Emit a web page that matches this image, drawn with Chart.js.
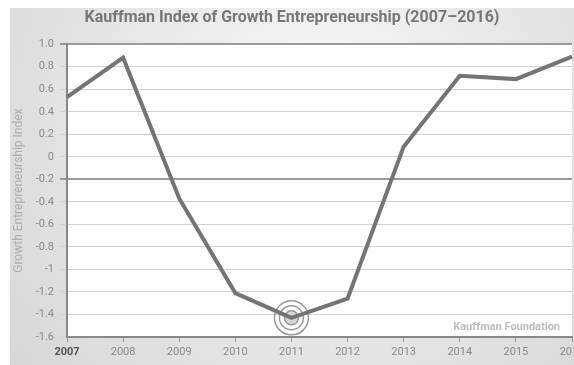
<!DOCTYPE html>
<html>
<head>
<meta charset="utf-8">
<script src="https://cdn.jsdelivr.net/npm/chart.js"></script>
<style>
  html, body { margin: 0; padding: 0; background: #fff; overflow: hidden; }
  #wrap { width: 574px; height: 365px; position: relative; }
</style>
</head>
<body>
<div id="wrap"><canvas id="chart"></canvas></div>
<script>
// Kauffman Index of Growth Entrepreneurship
const years = ['2007', '2008', '2009', '2010', '2011', '2012', '2013', '2014', '2015', '2016'];
const indexValues = [0.53, 0.88, -0.37, -1.21, -1.43, -1.26, 0.09, 0.72, 0.69, 0.89];
const yTickValues = [1.0, 0.8, 0.6, 0.4, 0.2, 0, -0.2, -0.4, -0.6, -0.8, -1, -1.2, -1.4, -1.6];
const yTickLabels = ['1.0', '0.8', '0.6', '0.4', '0.2', '0', '-0.2', '-0.4', '-0.6', '-0.8', '-1', '-1.2', '-1.4', '-1.6'];
const highlightYear = '2011';
const sourceText = 'Kauffman Foundation';

const FONT = 'Roboto, "Noto Sans", sans-serif';

// grey panel behind the plot, white plot area
const panelBg = {
  id: 'panelBg',
  beforeDraw(chart) {
    const { ctx, chartArea: a, width, height } = chart;
    ctx.save();
    ctx.fillStyle = '#fff';
    ctx.fillRect(0, 0, width, height);
    const g = ctx.createRadialGradient(320, 120, 40, 320, 120, 420);
    g.addColorStop(0, '#f6f6f6');
    g.addColorStop(1, '#d4d4d4');
    ctx.fillStyle = g;
    ctx.fillRect(10, 8, width - 10, height - 8);
    ctx.fillStyle = '#fff';
    ctx.fillRect(a.left, a.top, a.right - a.left, a.bottom - a.top);
    ctx.restore();
  }
};

// target rings on the lowest year, plus source label
const marks = {
  id: 'marks',
  beforeDatasetsDraw(chart) {
    const { ctx } = chart;
    const i = years.indexOf(highlightYear);
    const pt = chart.getDatasetMeta(0).data[i];
    ctx.save();
    ctx.fillStyle = '#d6d6d6';
    ctx.beginPath();
    ctx.arc(pt.x, pt.y, 7, 0, Math.PI * 2);
    ctx.fill();
    ctx.strokeStyle = '#9a9a9a';
    ctx.lineWidth = 1.5;
    [7, 12, 17].forEach(r => {
      ctx.beginPath();
      ctx.arc(pt.x, pt.y, r, 0, Math.PI * 2);
      ctx.stroke();
    });
    ctx.restore();
  },
  afterDraw(chart) {
    const { ctx, chartArea: a } = chart;
    ctx.save();
    ctx.font = 'bold 11px ' + FONT;
    ctx.fillStyle = '#bdbdbd';
    ctx.textAlign = 'right';
    ctx.textBaseline = 'middle';
    ctx.fillText(sourceText, a.right - 12, a.bottom - 10);
    ctx.restore();
  }
};

new Chart(document.getElementById('chart'), {
  type: 'line',
  data: {
    labels: years,
    datasets: [{
      data: indexValues,
      borderColor: '#747474',
      borderWidth: 4,
      pointRadius: 0,
      tension: 0,
      fill: false
    }]
  },
  options: {
    responsive: true,
    maintainAspectRatio: false,
    animation: false,
    layout: { padding: { left: 12, right: 2, top: 0, bottom: 0 } },
    plugins: {
      legend: { display: false },
      tooltip: { enabled: false },
      title: {
        display: true,
        text: 'Kauffman Index of Growth Entrepreneurship (2007\u20132016)',
        color: '#777',
        font: { family: FONT, size: 16, weight: 'bold' },
        padding: { top: 8, bottom: 17 }
      }
    },
    scales: {
      x: {
        offset: false,
        grid: {
          drawOnChartArea: false,
          drawTicks: true,
          tickLength: 5,
          color: '#999',
          lineWidth: 1
        },
        border: { color: '#888', width: 2 },
        ticks: {
          maxRotation: 0,
          autoSkip: false,
          padding: 4,
          color: c => c.index === 0 ? '#555' : '#8a8a8a',
          font: c => ({ family: FONT, size: 11, weight: c.index === 0 ? 'bold' : 'normal' })
        },
        afterFit(s) {
          s.paddingLeft = 0;
          s.paddingRight = 0;
          s.height = 28;
        }
      },
      y: {
        min: -1.6,
        max: 1.0,
        afterBuildTicks(s) {
          s.ticks = yTickValues.map(v => ({ value: v }));
        },
        grid: {
          tickLength: 7,
          color: c => {
            const v = c.tick && c.tick.value;
            if (v === 1 || v === -0.2) return '#9a9a9a';
            return '#d2d2d2';
          },
          lineWidth: c => {
            const v = c.tick && c.tick.value;
            return (v === 1 || v === -0.2) ? 2 : 1;
          }
        },
        border: { color: '#888', width: 2 },
        ticks: {
          padding: 6,
          color: '#8a8a8a',
          font: { family: FONT, size: 11 },
          callback: (v, i) => yTickLabels[i]
        },
        title: {
          display: true,
          text: 'Growth Entrepreneurship Index',
          color: '#adadad',
          font: { family: FONT, size: 12 },
          padding: 0
        },
        afterFit(s) {
          s.width = 55;
        }
      }
    }
  },
  plugins: [panelBg, marks]
});
</script>
</body>
</html>
